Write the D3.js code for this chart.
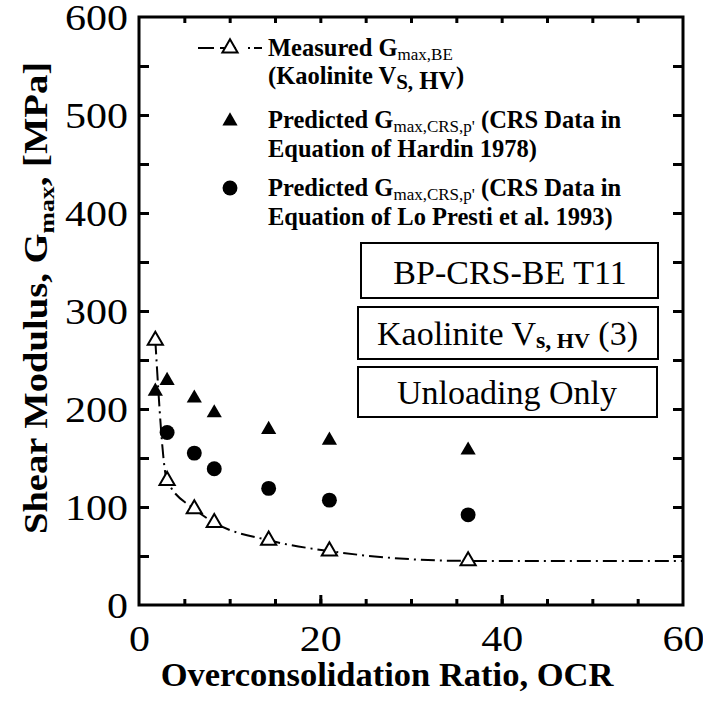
<!DOCTYPE html>
<html><head><meta charset="utf-8">
<script src="https://cdn.jsdelivr.net/npm/d3@7/dist/d3.min.js"></script>
<style>
html,body{margin:0;padding:0;background:#fff;}
svg{display:block;font-family:"Liberation Serif","Times New Roman",serif;}
</style></head>
<body><svg id="c" width="703" height="704"></svg>
<script>
// ---- data ----
const ocr = [1.8, 3.1, 6.1, 8.3, 14.3, 21.0, 36.3];
const measuredG = [270, 127, 98, 84, 66, 55, 45];
const hardinOCR = [1.8, 3.1, 6.1, 8.3, 14.3, 21.0, 36.3];
const hardinG = [218, 229, 211, 196, 179, 168, 158];
const loPrestiOCR = [3.1, 6.1, 8.3, 14.3, 21.0, 36.3];
const loPrestiG = [176, 155, 139, 119, 107, 92];
const trendOCR = [1.8, 3.1, 6.1, 8.3, 14.3, 21.0, 36.3, 60];
const trendG = [270, 127, 98, 84, 66, 55, 45, 45];
const xTickLabels = [0, 20, 40, 60];
const yTickLabels = [0, 100, 200, 300, 400, 500, 600];

const svg = d3.select("#c");
const L = 139, R = 683, T = 17, B = 605;
const x = d3.scaleLinear().domain([0, 60]).range([L, R]);
const y = d3.scaleLinear().domain([0, 600]).range([B, T]);

// ticks (inward)
function tickAxis(axis, tr, vals, size) {
  const g = svg.append("g").attr("transform", tr)
    .call(axis.tickValues(vals).tickSize(size).tickFormat(""));
  g.select(".domain").remove();
  g.selectAll("line").attr("stroke", "#000").attr("stroke-width", 3);
}
const xMinor = d3.range(5, 60, 5);
const yMinor = d3.range(50, 600, 50);
tickAxis(d3.axisBottom(x), `translate(0,${B})`, xMinor, -6);
tickAxis(d3.axisBottom(x), `translate(0,${B})`, [20, 40], -10);
tickAxis(d3.axisTop(x), `translate(0,${T})`, xMinor, -6);
tickAxis(d3.axisLeft(y), `translate(${L},0)`, yMinor, -10);
tickAxis(d3.axisRight(y), `translate(${R},0)`, yMinor, -10);

// frame
svg.append("rect").attr("x", L).attr("y", T).attr("width", R - L).attr("height", B - T)
  .attr("fill", "none").attr("stroke", "#000").attr("stroke-width", 3);

// tick labels (glyphs widened like the original)
const SX = 1.2;
const xl = svg.append("g").attr("transform", `translate(0,${B})`)
  .call(d3.axisBottom(x).tickValues(xTickLabels).tickSize(0).tickPadding(0).tickFormat(d3.format("d")));
xl.select(".domain").remove();
xl.selectAll("text").attr("font-size", 35).attr("font-family", "Liberation Serif")
  .attr("dy", null).attr("y", 46).attr("transform", `scale(${SX},1)`);
const yl = svg.append("g").attr("transform", `translate(${L},0)`)
  .call(d3.axisLeft(y).tickValues(yTickLabels).tickSize(0).tickPadding(0).tickFormat(d3.format("d")));
yl.select(".domain").remove();
yl.selectAll("text").attr("font-size", 35).attr("font-family", "Liberation Serif")
  .attr("x", -11 / SX).attr("dy", "0.36em").attr("transform", function () {
    const tr = d3.select(this.parentNode).attr("transform");
    return `scale(${SX},1)`;
  });

// axis titles
svg.append("text").attr("x", (161 + 613) / 2).attr("y", 686).attr("text-anchor", "middle")
  .attr("font-size", 34.5).attr("font-weight", "bold").text("Overconsolidation Ratio, OCR");
const yt = svg.append("text").attr("transform", "translate(47,298) rotate(-90) scale(1.17,1)").attr("text-anchor", "middle")
  .attr("font-size", 33).attr("font-weight", "bold");
yt.append("tspan").text("Shear Modulus, G");
yt.append("tspan").attr("font-size", 22).attr("dy", 7).text("max");
yt.append("tspan").attr("dy", -7).text(", [MPa]");

// trend line
const line = d3.line().x((d, i) => x(trendOCR[i])).y((d, i) => y(trendG[i])).curve(d3.curveMonotoneX);
svg.append("path").datum(trendG).attr("d", line).attr("fill", "none").attr("stroke", "#000")
  .attr("stroke-width", 2).attr("stroke-dasharray", "14,5,2,5");

// markers
const triSym = d3.symbol().type(d3.symbolTriangle).size(100);
const circSym = d3.symbol().type(d3.symbolCircle).size(175);
svg.append("g").selectAll("path").data(hardinG).join("path")
  .attr("transform", (d, i) => `translate(${x(hardinOCR[i])},${y(d)})`).attr("d", triSym).attr("fill", "#000");
svg.append("g").selectAll("path").data(loPrestiG).join("path")
  .attr("transform", (d, i) => `translate(${x(loPrestiOCR[i])},${y(d)})`).attr("d", circSym).attr("fill", "#000");
svg.append("g").selectAll("path").data(measuredG).join("path")
  .attr("transform", (d, i) => `translate(${x(ocr[i])},${y(d)})`).attr("d", triSym)
  .attr("fill", "#fff").attr("stroke", "#000").attr("stroke-width", 2);

// legend
const lg = svg.append("g").attr("font-weight", "bold").attr("font-size", 24.5);
lg.append("line").attr("x1", 198).attr("x2", 262).attr("y1", 48).attr("y2", 48)
  .attr("stroke", "#000").attr("stroke-width", 2).attr("stroke-dasharray", "16,6,0,0,16,12,2,4");
lg.append("path").attr("transform", "translate(230,48)").attr("d", triSym)
  .attr("fill", "#fff").attr("stroke", "#000").attr("stroke-width", 2);
let t = lg.append("text").attr("x", 268).attr("y", 56);
t.append("tspan").text("Measured G");
t.append("tspan").attr("font-size", 17).attr("font-weight", "normal").attr("dy", 4).text("max,BE");
t = lg.append("text").attr("x", 268).attr("y", 84);
t.append("tspan").text("(Kaolinite V");
t.append("tspan").attr("font-size", 21).attr("dy", 5).text("S,");
t.append("tspan").attr("dy", 0).text(" HV");
t.append("tspan").attr("dy", -5).text(")");

lg.append("path").attr("transform", "translate(230,121)").attr("d", triSym).attr("fill", "#000");
t = lg.append("text").attr("x", 268).attr("y", 128);
t.append("tspan").text("Predicted G");
t.append("tspan").attr("font-size", 17).attr("font-weight", "normal").attr("dy", 4).text("max,CRS,p'");
t.append("tspan").attr("dy", -4).text("  (CRS Data in");
lg.append("text").attr("x", 268).attr("y", 157).text("Equation of Hardin 1978)");

lg.append("path").attr("transform", "translate(230,188)").attr("d", circSym).attr("fill", "#000");
t = lg.append("text").attr("x", 268).attr("y", 196);
t.append("tspan").text("Predicted G");
t.append("tspan").attr("font-size", 17).attr("font-weight", "normal").attr("dy", 4).text("max,CRS,p'");
t.append("tspan").attr("dy", -4).text("  (CRS Data in");
lg.append("text").attr("x", 268).attr("y", 225).text("Equation of Lo Presti et al. 1993)");

// info boxes
const boxes = [
  {x: 361, y: 243, w: 297, h: 55},
  {x: 358, y: 307, w: 300, h: 52},
  {x: 358, y: 367, w: 299, h: 50}
];
svg.append("g").selectAll("rect").data(boxes).join("rect")
  .attr("x", d => d.x).attr("y", d => d.y).attr("width", d => d.w).attr("height", d => d.h)
  .attr("fill", "#fff").attr("stroke", "#000").attr("stroke-width", 2);
svg.append("text").attr("x", 510).attr("y", 284).attr("text-anchor", "middle").attr("font-size", 34).text("BP-CRS-BE T11");
t = svg.append("text").attr("x", 377).attr("y", 345).attr("font-size", 34);
t.append("tspan").text("Kaolinite V");
t.append("tspan").attr("font-size", 24).attr("font-weight", "bold").attr("dy", 3).text("s,");
t.append("tspan").attr("font-size", 22).attr("font-weight", "bold").text(" HV");
t.append("tspan").attr("dy", -3).text("  (3)");
svg.append("text").attr("x", 507).attr("y", 404).attr("text-anchor", "middle").attr("font-size", 34).text("Unloading Only");
</script></body></html>
